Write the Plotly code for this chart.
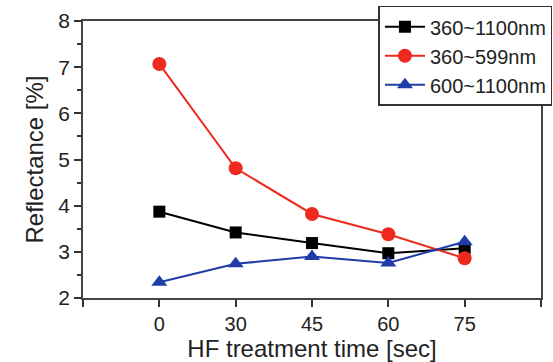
import plotly.graph_objects as go

times = ["0", "30", "45", "60", "75"]
r_360_1100 = [3.87, 3.42, 3.19, 2.97, 3.08]
r_360_599 = [7.07, 4.81, 3.82, 3.38, 2.86]
r_600_1100 = [2.34, 2.74, 2.90, 2.76, 3.22]

x = list(range(len(times)))

fig = go.Figure()
fig.add_trace(go.Scatter(x=x, y=r_360_1100, name="360~1100nm", mode="lines+markers",
                         line=dict(color="#000000", width=2),
                         marker=dict(symbol="square", size=12, color="#000000")))
fig.add_trace(go.Scatter(x=x, y=r_360_599, name="360~599nm", mode="lines+markers",
                         line=dict(color="#ee2a1e", width=2),
                         marker=dict(symbol="circle", size=14, color="#ee2a1e")))
fig.add_trace(go.Scatter(x=x, y=r_600_1100, name="600~1100nm", mode="lines+markers",
                         line=dict(color="#1f3ca8", width=2),
                         marker=dict(symbol="triangle-up", size=14, color="#1f3ca8")))

fig.update_layout(
    width=553, height=362,
    margin=dict(l=83, r=12, t=21, b=64, autoexpand=False),
    plot_bgcolor="white", paper_bgcolor="white",
    font=dict(family="Liberation Sans, Arial", size=20, color="#222222"),
    showlegend=True,
    legend=dict(x=1.025, xanchor="right", y=1.055, yanchor="top",
                bgcolor="white", bordercolor="#333333", borderwidth=1.5,
                font=dict(size=20), tracegroupgap=0, itemwidth=40,
                traceorder="normal", valign="middle"),
    xaxis=dict(
        range=[-1, len(times)], tickmode="array",
        tickvals=[-1] + x + [len(times)], ticktext=[""] + times + [""],
        ticks="outside", ticklen=7, tickwidth=1.5, tickcolor="#333333",
        automargin=True,
        showline=True, linecolor="#444444", linewidth=1.5, mirror=True,
        showgrid=False, zeroline=False,
        title=dict(text="HF treatment time [sec]", font=dict(size=24), standoff=2),
        tickfont=dict(size=20),
    ),
    yaxis=dict(
        range=[2, 8], dtick=1, ticks="outside", ticklen=7, tickwidth=1.5,
        tickcolor="#333333", automargin=True,
        minor=dict(dtick=0.5, ticks="outside", ticklen=4, tickcolor="#333333"),
        showline=True, linecolor="#444444", linewidth=1.5, mirror=True,
        showgrid=False, zeroline=False,
        title=dict(text="Reflectance [%]", font=dict(size=24), standoff=8),
        tickfont=dict(size=21),
    ),
)

fig.write_html("out.html")
